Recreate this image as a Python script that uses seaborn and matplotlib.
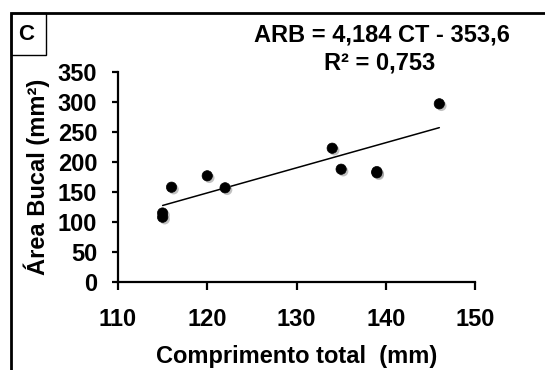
import numpy as np
import pandas as pd
import matplotlib
matplotlib.use("Agg")
import matplotlib.pyplot as plt
import matplotlib.patheffects as pe
from matplotlib.patches import Rectangle
import seaborn as sns

# data
comprimento = [115, 115, 116, 120, 122, 134, 135, 139, 139, 146]
area_bucal = [115, 108, 158, 177, 157, 223, 188, 182, 184, 297]
slope = 4.184
intercept = -353.6
r2 = 0.753

df = pd.DataFrame({"CT": comprimento, "ARB": area_bucal})

sns.set_theme(style="ticks")
plt.rcParams["font.family"] = ["Liberation Sans", "DejaVu Sans"]
plt.rcParams["font.weight"] = "bold"
plt.rcParams["text.color"] = "black"
plt.rcParams["axes.labelcolor"] = "black"

fig = plt.figure(figsize=(5.45, 3.7), dpi=100)
ax = fig.add_axes([0.2165, 0.2378, 0.6551, 0.5676])

# regression line from the fitted equation
xl = np.array([min(comprimento), max(comprimento)])
ax.plot(xl, slope * xl + intercept, color="black", lw=1.1, zorder=2)

sns.scatterplot(data=df, x="CT", y="ARB", ax=ax, color="black", s=55,
                edgecolor="black", linewidth=0.5, zorder=3)
ax.collections[0].set_path_effects([pe.SimplePatchShadow(offset=(1.5, -1.5), shadow_rgbFace="0.6", alpha=0.6),
                                    pe.Normal()])

ax.set_xlim(110, 150)
ax.set_ylim(0, 350)
ax.set_xticks([110, 120, 130, 140, 150])
ax.set_yticks(range(0, 351, 50))
sns.despine(ax=ax)
for s in ["left", "bottom"]:
    ax.spines[s].set_linewidth(1.6)
    ax.spines[s].set_color("black")
ax.tick_params(axis="x", length=6, width=1.6, labelsize=17, pad=13, colors="black")
ax.tick_params(axis="y", length=4, width=1.6, labelsize=17, pad=11, colors="black")
for lab in ax.get_xticklabels() + ax.get_yticklabels():
    lab.set_fontweight("bold")

ax.set_xlabel("Comprimento total  (mm)", fontsize=17, fontweight="bold", labelpad=10)
ax.set_ylabel("Área Bucal (mm²)", fontsize=17, fontweight="bold")
ax.yaxis.set_label_coords(-0.19, 0.5)

fig.text(382 / 545, 1 - 35 / 370, f"ARB = {slope:.3f} CT - {abs(intercept):.1f}".replace(".", ","),
         ha="center", va="center", fontsize=17, fontweight="bold")
fig.text(380 / 545, 1 - 63 / 370, f"R² = {r2:.3f}".replace(".", ","),
         ha="center", va="center", fontsize=17, fontweight="bold")

# outer frame and panel letter
fig.add_artist(Rectangle((11 / 545, -0.2), 1.2, 1 - 13 / 370 + 0.2, transform=fig.transFigure,
                         fill=False, edgecolor="black", lw=2))
fig.add_artist(Rectangle((11 / 545, 1 - 55 / 370), 35 / 545, 42 / 370, transform=fig.transFigure,
                         fill=False, edgecolor="black", lw=1))
fig.text(26 / 545, 1 - 35 / 370, "C", ha="center", va="center", fontsize=16, fontweight="bold")

fig.savefig("out.png", dpi=100)
